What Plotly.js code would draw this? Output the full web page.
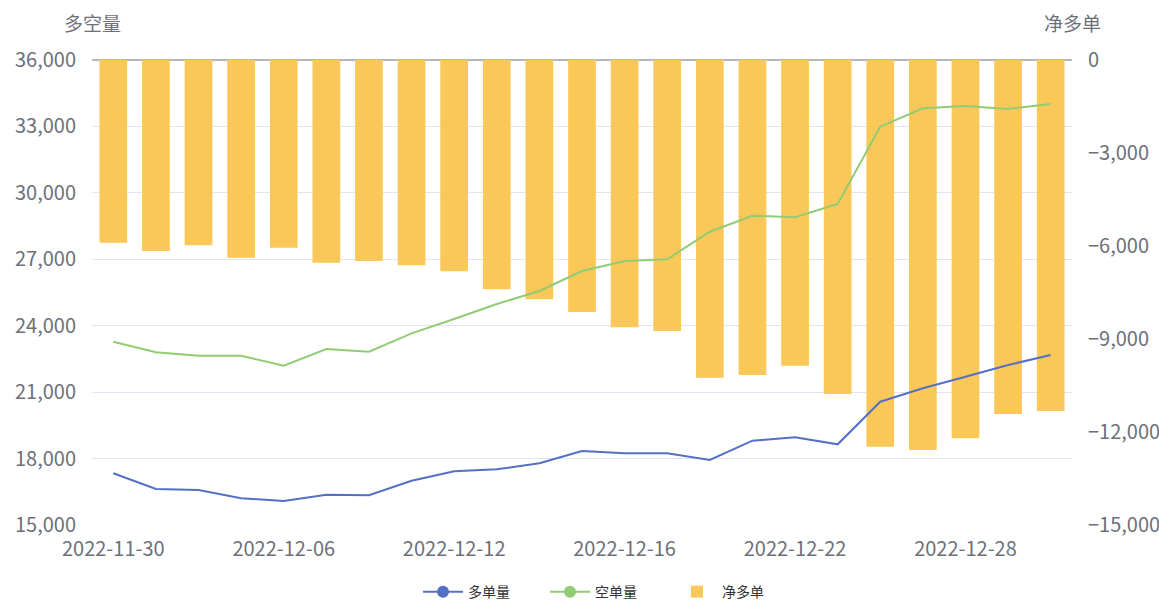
<!DOCTYPE html>
<html>
<head>
<meta charset="utf-8">
<script src="https://cdn.plot.ly/plotly-3.0.1.min.js"></script>
<style>
  html, body { margin: 0; padding: 0; background: #fff; }
  #chart { width: 1159px; height: 606px; }
</style>
</head>
<body>
<div id="chart"></div>
<script>
// ---- data ----
const dates = [
  "2022-11-30", "2022-12-01", "2022-12-02", "2022-12-05", "2022-12-06",
  "2022-12-07", "2022-12-08", "2022-12-09", "2022-12-12", "2022-12-13",
  "2022-12-14", "2022-12-15", "2022-12-16", "2022-12-19", "2022-12-20",
  "2022-12-21", "2022-12-22", "2022-12-23", "2022-12-26", "2022-12-27",
  "2022-12-28", "2022-12-29", "2022-12-30"
];
// 多单量 (long volume)
const longVol = [
  17335, 16626, 16581, 16206, 16085, 16369, 16341, 17001, 17425, 17515,
  17786, 18343, 18238, 18238, 17936, 18808, 18960, 18644, 20569, 21174,
  21698, 22226, 22678
];
// 空单量 (short volume)
const shortVol = [
  23279, 22800, 22647, 22647, 22195, 22949, 22827, 23657, 24300, 24980,
  25568, 26470, 26923, 26999, 28246, 28969, 28896, 29497, 32988, 33818,
  33922, 33787, 34013
];
// 净多单 (net long)
const netLong = [
  -5894, -6161, -5977, -6377, -6055, -6539, -6484, -6623, -6816, -7397,
  -7719, -8129, -8623, -8742, -10248, -10161, -9861, -10774, -12474, -12581,
  -12203, -11419, -11323
];
const leftTicks = [15000, 18000, 21000, 24000, 27000, 30000, 33000, 36000];
const rightTicks = [-15000, -12000, -9000, -6000, -3000, 0];
const tickDates = dates.filter((d, i) => i % 4 === 0);

const fontFam = '"Noto Sans CJK SC", "Noto Sans", sans-serif';
const axisGray = '#6E7079';
const cLong = '#5470c6', cShort = '#91cc75', cNet = '#fac858';

const traces = [
  {
    type: 'bar', name: '净多单', x: dates, y: netLong,
    xaxis: 'x', yaxis: 'y', legendrank: 3,
    marker: { color: cNet, line: { width: 0 } },
    width: 0.65, hoverinfo: 'skip'
  },
  {
    type: 'scatter', mode: 'lines', name: '多单量', x: dates, y: longVol,
    xaxis: 'x', yaxis: 'y2', showlegend: false,
    line: { color: cLong, width: 2 }, hoverinfo: 'skip'
  },
  {
    type: 'scatter', mode: 'lines', name: '空单量', x: dates, y: shortVol,
    xaxis: 'x', yaxis: 'y2', showlegend: false,
    line: { color: cShort, width: 2 }, hoverinfo: 'skip'
  },
  // legend entries (line + circle icon)
  {
    type: 'scatter', mode: 'lines+markers', name: '多单量', x: [null], y: [null],
    xaxis: 'x', yaxis: 'y2', legendrank: 1,
    line: { color: cLong, width: 2 }, marker: { color: cLong, size: 12 }
  },
  {
    type: 'scatter', mode: 'lines+markers', name: '空单量', x: [null], y: [null],
    xaxis: 'x', yaxis: 'y2', legendrank: 2,
    line: { color: cShort, width: 2 }, marker: { color: cShort, size: 12 }
  }
];

const layout = {
  width: 1159, height: 606,
  margin: { l: 92, r: 87, t: 60, b: 81 },
  paper_bgcolor: '#fff', plot_bgcolor: '#fff',
  font: { family: fontFam, color: axisGray },
  showlegend: true,
  legend: {
    orientation: 'h', xref: 'container', yref: 'container',
    x: 418 / 1159, xanchor: 'left', y: 0.023, yanchor: 'middle',
    font: { size: 14, color: '#333', family: fontFam },
    traceorder: 'normal', itemwidth: 40,
    entrywidth: 72, entrywidthmode: 'pixels'
  },
  xaxis: {
    type: 'category', range: [-0.5, dates.length - 0.5],
    tickmode: 'array', tickvals: tickDates, ticktext: tickDates,
    showgrid: false, zeroline: false, showline: false,
    ticks: 'outside', ticklen: 6, tickcolor: 'rgba(0,0,0,0)',
    tickfont: { size: 20, color: axisGray, family: fontFam }
  },
  yaxis: {
    side: 'right', range: [-15000, 0],
    tickmode: 'array', tickvals: rightTicks,
    tickformat: ',d',
    showgrid: false, zeroline: false, showline: false,
    ticks: 'outside', ticklen: 11, tickcolor: 'rgba(0,0,0,0)',
    tickfont: { size: 20, color: axisGray, family: fontFam }
  },
  yaxis2: {
    side: 'left', overlaying: 'y', range: [15000, 36000],
    tickmode: 'array', tickvals: leftTicks,
    tickformat: ',d',
    showgrid: true, gridcolor: '#E0E6F1', gridwidth: 1,
    zeroline: false, showline: false,
    ticks: 'outside', ticklen: 11, tickcolor: 'rgba(0,0,0,0)',
    tickfont: { size: 20, color: axisGray, family: fontFam }
  },
  shapes: [
    {
      type: 'line', xref: 'paper', yref: 'paper', x0: 0, x1: 1, y0: 1, y1: 1,
      layer: 'below', line: { color: axisGray, width: 1 }
    }
  ],
  annotations: [
    {
      text: '多空量', xref: 'paper', yref: 'paper', x: 0, y: 1.08,
      xanchor: 'center', yanchor: 'middle', showarrow: false,
      font: { size: 19, color: axisGray, family: fontFam }
    },
    {
      text: '净多单', xref: 'paper', yref: 'paper', x: 1, y: 1.08,
      xanchor: 'center', yanchor: 'middle', showarrow: false,
      font: { size: 19, color: axisGray, family: fontFam }
    }
  ],
  bargap: 0.35
};

Plotly.newPlot('chart', traces, layout, { displayModeBar: false, staticPlot: true });
</script>
</body>
</html>
